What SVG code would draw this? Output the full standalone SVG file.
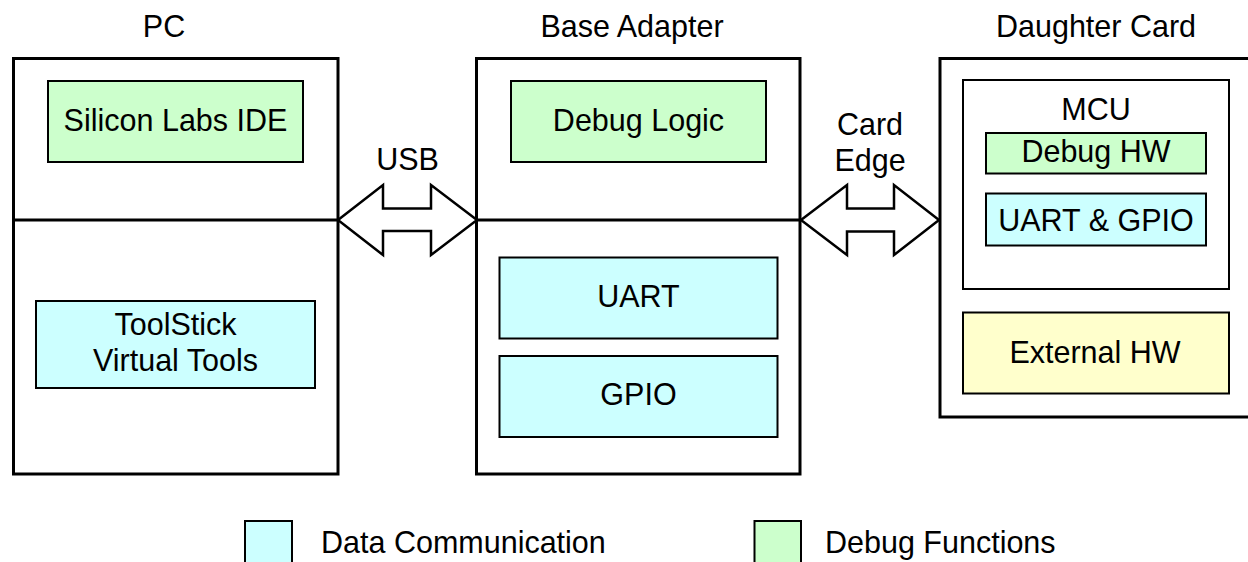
<svg xmlns="http://www.w3.org/2000/svg" width="1248" height="562" viewBox="0 0 1248 562">
<style>
text{font-family:"Liberation Sans",Arial,sans-serif;font-size:30.5px;fill:#000;text-anchor:middle}
.outer{fill:#fff;stroke:#000;stroke-width:3}
.inner{stroke:#000;stroke-width:2}
.green{fill:#CCFFCC}
.blue{fill:#CCFFFF}
.yellow{fill:#FFFFCC}
.white{fill:#fff}
.div{stroke:#000;stroke-width:3;fill:none}
.arrow{fill:#fff;stroke:#000;stroke-width:2.5;stroke-linejoin:miter}
</style>
<rect width="1248" height="562" fill="#fff"/>
<g id="pc">
<text x="164" y="37">PC</text>
<rect class="outer" x="13.5" y="58.5" width="324.5" height="415.5"/>
<line class="div" x1="13.5" y1="220" x2="338" y2="220"/>
<g id="silicon-labs-ide">
<rect class="inner green" x="48" y="81" width="255" height="81"/>
<text x="175.5" y="131">Silicon Labs IDE</text>
</g>
<g id="toolstick">
<rect class="inner blue" x="36" y="301" width="279" height="87"/>
<text x="175.5" y="335">ToolStick</text>
<text x="175.5" y="371">Virtual Tools</text>
</g>
</g>
<g id="base-adapter">
<text x="632" y="37">Base Adapter</text>
<rect class="outer" x="476.5" y="58.5" width="323.5" height="415.5"/>
<line class="div" x1="476.5" y1="220" x2="800" y2="220"/>
<g id="debug-logic">
<rect class="inner green" x="511" y="81" width="255" height="81"/>
<text x="638.5" y="131">Debug Logic</text>
</g>
<g id="uart">
<rect class="inner blue" x="499.5" y="257.5" width="278" height="81"/>
<text x="638.5" y="307">UART</text>
</g>
<g id="gpio">
<rect class="inner blue" x="499.5" y="356" width="278" height="81"/>
<text x="638.5" y="405">GPIO</text>
</g>
</g>
<g id="daughter-card">
<text x="1096" y="37">Daughter Card</text>
<rect class="outer" x="940" y="58.5" width="330" height="358.5"/>
<g id="mcu">
<rect class="inner white" x="963" y="80" width="266" height="209"/>
<text x="1096" y="120">MCU</text>
</g>
<g id="debug-hw">
<rect class="inner green" x="986" y="133" width="220" height="40.5"/>
<text x="1096" y="162">Debug HW</text>
</g>
<g id="uart-gpio">
<rect class="inner blue" x="986" y="193.5" width="220" height="52"/>
<text x="1096" y="231">UART &amp; GPIO</text>
</g>
<g id="external-hw">
<rect class="inner yellow" x="963" y="312.5" width="266" height="81"/>
<text x="1095" y="363">External HW</text>
</g>
</g>
<g id="connectors">
<polygon class="arrow" points="338,220 383,185 383,208.5 431,208.5 431,185 477,220 431,255 431,231 383,231 383,255"/>
<text x="407.5" y="170">USB</text>
<polygon class="arrow" points="801,220 847,185 847,208.5 894,208.5 894,185 939,220 894,255 894,231.5 847,231.5 847,255"/>
<text x="870" y="135">Card</text>
<text x="870" y="171">Edge</text>
</g>
<g id="legend">
<rect class="inner blue" x="245" y="521" width="47" height="50"/>
<text x="321" y="553" style="text-anchor:start">Data Communication</text>
<rect class="inner green" x="754.5" y="521" width="46.5" height="50"/>
<text x="825" y="553" style="text-anchor:start">Debug Functions</text>
</g>
</svg>
